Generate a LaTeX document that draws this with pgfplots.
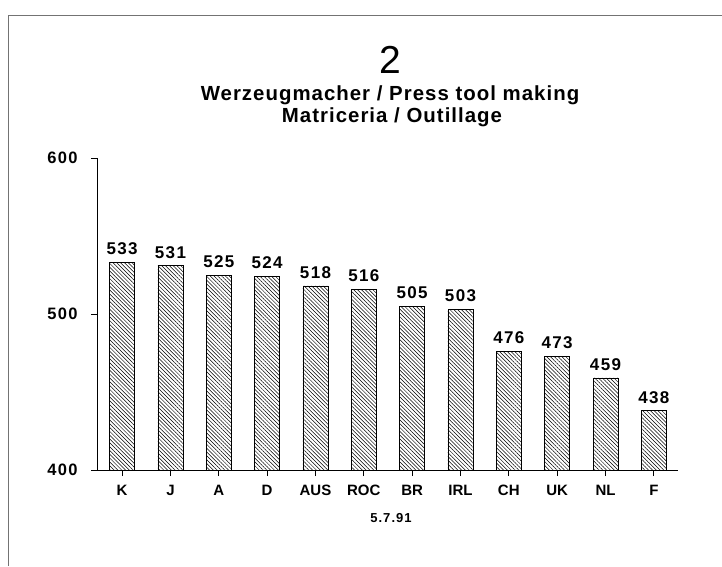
\documentclass[border=0pt]{standalone}
\usepackage{pgfplots}
\pgfplotsset{compat=1.18}
\usepackage{fontspec}
\setmainfont{Liberation Sans}
\newfontfamily\numfont[LetterSpace=8]{Liberation Sans}
\newfontfamily\ttlfont[LetterSpace=5]{Liberation Sans}
\usetikzlibrary{patterns.meta}

\begin{document}
\begin{tikzpicture}[x=1pt,y=1pt]
\path[use as bounding box] (0,0) rectangle (722,566);
% scanned page frame
\draw[black!55, line width=1pt] (8,0) -- (8,550) -- (722,550);

\node[font=\fontsize{39}{39}\selectfont] at (390,506) {2};
\node[font=\ttlfont\bfseries\fontsize{20.4}{24}\selectfont] at (390,471) {Werzeugmacher / Press tool making};
\node[font=\ttlfont\bfseries\fontsize{20.4}{24}\selectfont] at (392,449) {Matriceria / Outillage};
\node[font=\numfont\bfseries\fontsize{13}{13}\selectfont] at (391,48) {5.7.91};

\begin{axis}[
    at={(97pt,96pt)},
    anchor=south west,
    scale only axis,
    width=581pt,
    height=312pt,
    ybar,
    bar width=25pt,
    ymin=400, ymax=600,
    ytick={400,500,600},
    xmin=-0.52, xmax=11.5,
    xtick={0,...,11},
    xticklabels={K,J,A,D,AUS,ROC,BR,IRL,CH,UK,NL,F},
    axis lines*=left,
    axis line style={line width=0.9pt},
    tick align=outside,
    major tick length=6pt,
    tick style={black, line width=0.8pt},
    /pgf/number format/assume math mode=true,
    xticklabel style={font=\bfseries\fontsize{15}{15}\selectfont,
        text height=11pt, text depth=0pt, yshift=-5pt},
    yticklabel style={font=\numfont\bfseries\fontsize{16.5}{16.5}\selectfont, xshift=-10pt},
    nodes near coords,
    every node near coord/.append style={
        font=\numfont\bfseries\fontsize{17}{17}\selectfont,
        inner sep=0pt, yshift=7pt
    },
]
\addplot[
    draw=black, line width=0.8pt,
    pattern={Lines[angle=-45, distance=2.7pt, line width=0.5pt]},
] coordinates {
    (0,533) (1,531) (2,525) (3,524) (4,518) (5,516)
    (6,505) (7,503) (8,476) (9,473) (10,459) (11,438)
};
\end{axis}
\end{tikzpicture}
\end{document}
